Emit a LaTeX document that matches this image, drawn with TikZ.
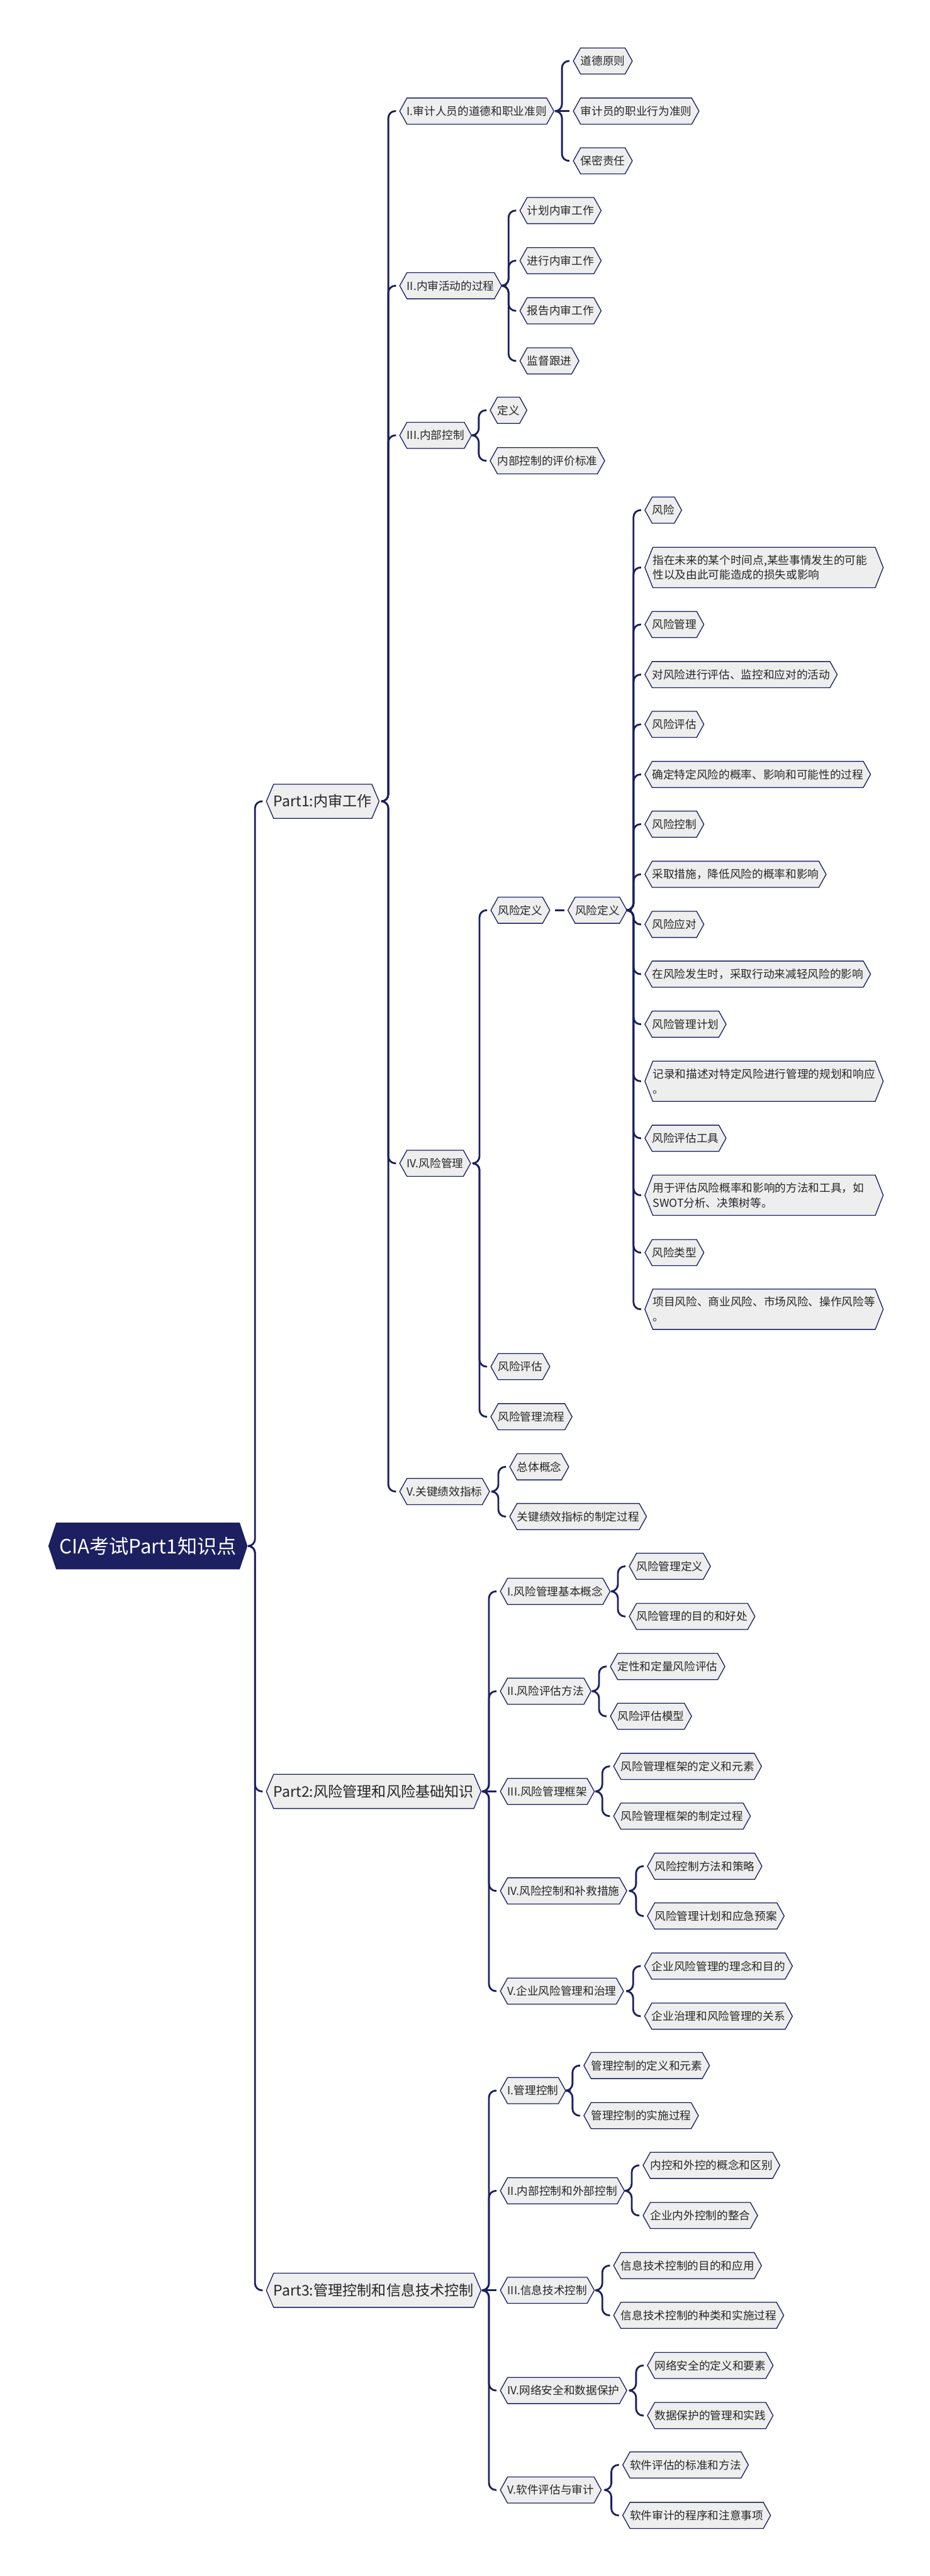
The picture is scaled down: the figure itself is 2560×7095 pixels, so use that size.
\documentclass[tikz,border=0pt]{standalone}
\usepackage{fontspec}
\newfontfamily\cjk{Noto Sans CJK SC}
\usetikzlibrary{shapes.symbols}
\definecolor{navy}{HTML}{1C2060}
\definecolor{hexfill}{HTML}{EEEEEE}
\definecolor{ink}{HTML}{262626}
\tikzset{
  hexa/.style={signal, signal to=west and east, draw=navy, line width=0.65pt, fill=hexfill, text=ink, anchor=west, inner xsep=0pt, inner ysep=0pt},
  topic/.style={hexa, fill=navy, text=white, font=\cjk\fontsize{15.4}{18}\selectfont, minimum height=1.26cm, inner xsep=0.08cm, signal pointer angle=143},
  part/.style={hexa, font=\cjk\fontsize{11.4}{14}\selectfont, minimum height=0.94cm, signal pointer angle=134},
  item/.style={hexa, font=\cjk\fontsize{8.7}{11.7}\selectfont, minimum height=0.72cm, signal pointer angle=122},
  note/.style={item, minimum height=1.11cm, text width=6.12cm, align=left, signal pointer angle=137},
  link/.style={draw=navy, line width=1.4pt, rounded corners=0.19cm}
}
\begin{document}
\begin{tikzpicture}[x=0.01cm,y=-0.01cm]
\fill[white] (0,0) rectangle (2560,7095);
\useasboundingbox (0,0) rectangle (2560,7095);

\node[topic] (root) at (133,4258) {CIA考试Part1知识点};
\node[part] (p1) at (732,2207) {Part1:内审工作};
\node[part] (p2) at (732,4934) {Part2:风险管理和风险基础知识};
\node[part] (p3) at (732,6308) {Part3:管理控制和信息技术控制};

% Part1
\foreach \n/\y/\t in {s1/306/{I.审计人员的道德和职业准则}, s2/787/{II.内审活动的过程}, s3/1199/{III.内部控制}, s4/3204/{IV.风险管理}, s5/4108/{V.关键绩效指标}}
  \node[item] (\n) at (1099,\y) {\t};
\foreach \n/\y/\t in {s1a/168/{道德原则}, s1b/306/{审计员的职业行为准则}, s1c/443/{保密责任}}
  \node[item] (\n) at (1577,\y) {\t};
\foreach \n/\y/\t in {s2a/580/{计划内审工作}, s2b/718/{进行内审工作}, s2c/856/{报告内审工作}, s2d/994/{监督跟进}}
  \node[item] (\n) at (1430,\y) {\t};
\node[item] (s3a) at (1348,1130) {定义};
\node[item] (s3b) at (1348,1269) {内部控制的评价标准};
\node[item] (s4a) at (1350,2507) {风险定义};
\node[item] (s4b) at (1350,3764) {风险评估};
\node[item] (s4c) at (1350,3902) {风险管理流程};
\node[item] (rd) at (1562,2507) {风险定义};
\foreach \n/\y/\t in {r1/1405/{风险}, r3/1720/{风险管理}, r4/1858/{对风险进行评估、监控和应对的活动}, r5/1995/{风险评估}, r6/2133/{确定特定风险的概率、影响和可能性的过程}, r7/2270/{风险控制}, r8/2408/{采取措施，降低风险的概率和影响}, r9/2546/{风险应对}, r10/2683/{在风险发生时，采取行动来减轻风险的影响}, r11/2821/{风险管理计划}, r13/3135/{风险评估工具}, r15/3450/{风险类型}}
  \node[item] (\n) at (1774,\y) {\t};
\node[note] (r2) at (1774,1563) {指在未来的某个时间点,某些事情发生的可能\\性以及由此可能造成的损失或影响};
\node[note] (r12) at (1774,2978) {记录和描述对特定风险进行管理的规划和响应\\。};
\node[note] (r14) at (1774,3292) {用于评估风险概率和影响的方法和工具，如\\SWOT分析、决策树等。};
\node[note] (r16) at (1774,3606) {项目风险、商业风险、市场风险、操作风险等\\。};
\node[item] (s5a) at (1402,4040) {总体概念};
\node[item] (s5b) at (1402,4177) {关键绩效指标的制定过程};

% Part2
\foreach \n/\y/\t in {t1/4383/{I.风险管理基本概念}, t2/4658/{II.风险评估方法}, t3/4934/{III.风险管理框架}, t4/5208/{IV.风险控制和补救措施}, t5/5484/{V.企业风险管理和治理}}
  \node[item] (\n) at (1376,\y) {\t};
\foreach \n/\x/\y/\t in {t1a/1731/4314/{风险管理定义}, t1b/1731/4452/{风险管理的目的和好处}, t2a/1679/4590/{定性和定量风险评估}, t2b/1679/4727/{风险评估模型}, t3a/1688/4865/{风险管理框架的定义和元素}, t3b/1688/5002/{风险管理框架的制定过程}, t4a/1781/5140/{风险控制方法和策略}, t4b/1781/5277/{风险管理计划和应急预案}, t5a/1773/5415/{企业风险管理的理念和目的}, t5b/1773/5553/{企业治理和风险管理的关系}}
  \node[item] (\n) at (\x,\y) {\t};

% Part3
\foreach \n/\y/\t in {u1/5758/{I.管理控制}, u2/6034/{II.内部控制和外部控制}, u3/6308/{III.信息技术控制}, u4/6584/{IV.网络安全和数据保护}, u5/6858/{V.软件评估与审计}}
  \node[item] (\n) at (1376,\y) {\t};
\foreach \n/\x/\y/\t in {u1a/1606/5689/{管理控制的定义和元素}, u1b/1606/5827/{管理控制的实施过程}, u2a/1769/5964/{内控和外控的概念和区别}, u2b/1769/6102/{企业内外控制的整合}, u3a/1688/6240/{信息技术控制的目的和应用}, u3b/1688/6377/{信息技术控制的种类和实施过程}, u4a/1781/6515/{网络安全的定义和要素}, u4b/1781/6653/{数据保护的管理和实践}, u5a/1713/6789/{软件评估的标准和方法}, u5b/1713/6928/{软件审计的程序和注意事项}}
  \node[item] (\n) at (\x,\y) {\t};

% braces
\foreach \p/\kids in {root/{p1,p2,p3}, p1/{s1,s2,s3,s4,s5}, s1/{s1a,s1c}, s2/{s2a,s2b,s2c,s2d}, s3/{s3a,s3b}, s4/{s4a,s4b,s4c}, rd/{r1,r2,r3,r4,r5,r6,r7,r8,r9,r10,r11,r12,r13,r14,r15,r16}, s5/{s5a,s5b}, p2/{t1,t2,t4,t5}, t1/{t1a,t1b}, t2/{t2a,t2b}, t3/{t3a,t3b}, t4/{t4a,t4b}, t5/{t5a,t5b}, p3/{u1,u2,u4,u5}, u1/{u1a,u1b}, u2/{u2a,u2b}, u3/{u3a,u3b}, u4/{u4a,u4b}, u5/{u5a,u5b}}
  \foreach \c in \kids
    \draw[link] ([xshift=0.12cm]\p.east) -| ([xshift=-0.3cm]\c.west) -- ([xshift=-0.09cm]\c.west);
\foreach \p/\c in {s1/s1b, s4a/rd, p2/t3, p3/u3}
  \draw[link] ([xshift=0.12cm]\p.east) -- ([xshift=-0.09cm]\c.west);
\end{tikzpicture}
\end{document}
